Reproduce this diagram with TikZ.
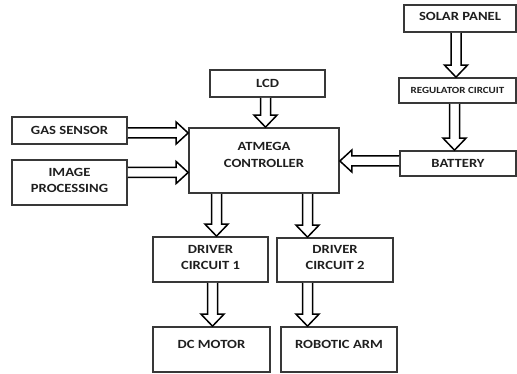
\documentclass[tikz,border=0pt]{standalone}
\usepackage{fontspec}
\newfontfamily\labfont{Carlito}[FakeStretch=1.17]
\usetikzlibrary{calc}
\tikzset{
  box/.style={draw=black!78, line width=1.7pt, fill=white, inner sep=0pt, rectangle},
  txt/.style={font=\labfont\bfseries\fontsize{12.5}{17}\selectfont, text=black!88, align=center, inner sep=0pt},
  smalltxt/.style={font=\labfont\bfseries\fontsize{9.4}{11}\selectfont, text=black!88, align=center, inner sep=0pt},
  arr/.style={draw=black, line width=1.5pt, line join=miter, fill=white}
}
% hollow block arrows: #1 = start (open end), #2 = tip
\newcommand{\darrow}[2]{\draw[arr] ($(#1)+(-5pt,0)$) -- ($(#2)+(-5pt,12pt)$) -- ($(#2)+(-11.5pt,12pt)$) -- (#2) -- ($(#2)+(11.5pt,12pt)$) -- ($(#2)+(5pt,12pt)$) -- ($(#1)+(5pt,0)$);}
\newcommand{\rarrow}[2]{\draw[arr] ($(#1)+(0,5pt)$) -- ($(#2)+(-12pt,5pt)$) -- ($(#2)+(-12pt,11pt)$) -- (#2) -- ($(#2)+(-12pt,-11pt)$) -- ($(#2)+(-12pt,-5pt)$) -- ($(#1)+(0,-5pt)$);}
\newcommand{\larrow}[2]{\draw[arr] ($(#1)+(0,5pt)$) -- ($(#2)+(12pt,5pt)$) -- ($(#2)+(12pt,11pt)$) -- (#2) -- ($(#2)+(12pt,-11pt)$) -- ($(#2)+(12pt,-5pt)$) -- ($(#1)+(0,-5pt)$);}
\begin{document}
\begin{tikzpicture}[x=1pt,y=-1pt]
\useasboundingbox[fill=white] (0,0) rectangle (517,374);
% boxes
\node[box, minimum width=115pt, minimum height=27pt] (gas) at (69.5,130.5) {};
\node[box, minimum width=115pt, minimum height=45pt] (img) at (69.5,182.5) {};
\node[box, minimum width=150pt, minimum height=65pt] (atm) at (264,160.5) {};
\node[box, minimum width=115pt, minimum height=27pt] (lcd) at (267.5,83.5) {};
\node[box, minimum width=112pt, minimum height=27pt] (sol) at (460,18.5) {};
\node[box, minimum width=117pt, minimum height=25pt] (reg) at (457.5,90.5) {};
\node[box, minimum width=116pt, minimum height=25pt] (bat) at (458,163.5) {};
\node[box, minimum width=115pt, minimum height=45pt] (d1) at (210.5,259.5) {};
\node[box, minimum width=116pt, minimum height=44pt] (d2) at (335,260) {};
\node[box, minimum width=117pt, minimum height=45pt] (dc) at (211.5,349.5) {};
\node[box, minimum width=116pt, minimum height=45pt] (ra) at (339,349.5) {};
% texts
\node[txt] (gast) at (gas.center) {GAS SENSOR};
\node[txt, baseline=0pt] (imgt) at ([yshift=2.5pt]img.center) {IMAGE\\[-1pt]PROCESSING};
\node[txt] (atmt) at ([yshift=5.5pt]atm.center) {ATMEGA\\CONTROLLER};
\node[txt] (lcdt) at (lcd.center) {LCD};
\node[txt] (solt) at ([yshift=2pt]sol.center) {SOLAR PANEL};
\node[smalltxt] (regt) at (reg.center) {REGULATOR CIRCUIT};
\node[txt] (batt) at (bat.center) {BATTERY};
\node[txt] (d1t) at ([yshift=2.5pt]d1.center) {DRIVER\\[-1pt]CIRCUIT 1};
\node[txt] (d2t) at ([yshift=2.5pt]d2.center) {DRIVER\\[-1pt]CIRCUIT 2};
\node[txt] (dct) at ([yshift=5.5pt]dc.center) {DC MOTOR};
\node[txt] (rat) at ([yshift=5.5pt]ra.center) {ROBOTIC ARM};
% connector coordinates
\coordinate (g0) at ([yshift=-2.5pt]gas.east);
\coordinate (g1) at (g0 -| atm.west);
\coordinate (i0) at ([yshift=10pt]img.east);
\coordinate (i1) at (i0 -| atm.west);
\coordinate (l0) at ([xshift=-2pt]lcd.south);
\coordinate (l1) at (l0 |- atm.north);
\coordinate (s0) at ([xshift=-4pt]sol.south);
\coordinate (s1) at (s0 |- reg.north);
\coordinate (r0) at ([xshift=-3pt]reg.south);
\coordinate (r1) at (r0 |- bat.north);
\coordinate (b0) at ([yshift=2.5pt]bat.west);
\coordinate (b1) at (b0 -| atm.east);
\coordinate (xa) at (216.5,0);
\coordinate (xb) at (307.5,0);
\coordinate (a0) at (atm.south -| xa);
\coordinate (a1) at (a0 |- d1.north);
\coordinate (c0) at (atm.south -| xb);
\coordinate (c1) at (c0 |- d2.north);
\coordinate (e0) at ([xshift=2pt]d1.south);
\coordinate (e1) at (e0 |- dc.north);
\coordinate (f0) at (d2.south -| xb);
\coordinate (f1) at (f0 |- ra.north);
% arrows
\rarrow{g0}{g1}
\rarrow{i0}{i1}
\darrow{l0}{l1}
\darrow{s0}{s1}
\darrow{r0}{r1}
\larrow{b0}{b1}
\darrow{a0}{a1}
\darrow{c0}{c1}
\darrow{e0}{e1}
\darrow{f0}{f1}
\end{tikzpicture}
\end{document}
